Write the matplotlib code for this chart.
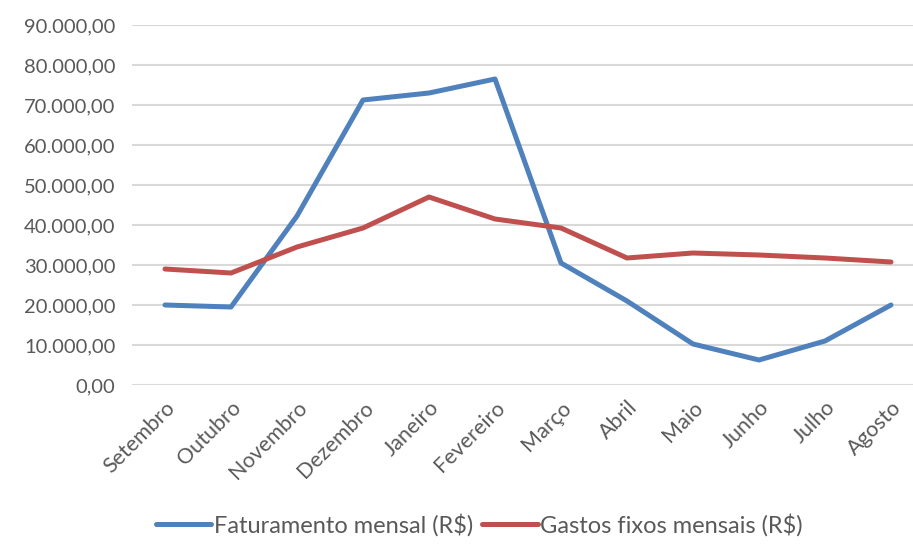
import matplotlib
matplotlib.use("Agg")
import matplotlib.pyplot as plt
from matplotlib.ticker import FuncFormatter

meses = ["Setembro", "Outubro", "Novembro", "Dezembro", "Janeiro", "Fevereiro",
         "Março", "Abril", "Maio", "Junho", "Julho", "Agosto"]
faturamento = [20000, 19500, 42250, 71250, 73000, 76500,
               30500, 21000, 10250, 6250, 11000, 20000]
gastos = [29000, 28000, 34500, 39250, 47000, 41500,
          39250, 31750, 33000, 32500, 31750, 30750]
yticks = [0, 10000, 20000, 30000, 40000, 50000, 60000, 70000, 80000, 90000]

plt.rcParams['font.family'] = ['Lato', 'DejaVu Sans']
text_color = "#595959"

fig = plt.figure(figsize=(9.13, 5.44), dpi=100)
ax = fig.add_axes([132 / 913, 1 - 385 / 544, 792 / 913, 360 / 544])

x = list(range(len(meses)))
ax.plot(x, faturamento, color="#4F81BD", lw=3.6, solid_capstyle="round",
        label="Faturamento mensal (R$)")
ax.plot(x, gastos, color="#C0504D", lw=3.6, solid_capstyle="round",
        label="Gastos fixos mensais (R$)")

ax.set_xlim(-0.5, len(meses) - 0.5)
ax.set_ylim(0, 90000)
ax.set_yticks(yticks)


def fmt(v, pos):
    s = "{:,.2f}".format(v)
    return s.replace(",", "X").replace(".", ",").replace("X", ".")


ax.yaxis.set_major_formatter(FuncFormatter(fmt))
ax.grid(axis="y", color="#D9D9D9", lw=1.5)
ax.set_axisbelow(True)
for s in ax.spines.values():
    s.set_visible(False)

ax.set_xticks(x)
ax.set_xticklabels(meses, rotation=45, ha="right", rotation_mode="anchor")
ax.tick_params(axis="y", length=0, labelsize=14.5, colors=text_color, pad=12)
ax.tick_params(axis="x", length=0, labelsize=15.5, colors=text_color, pad=9)

leg = fig.legend(loc="lower center", ncol=2, frameon=False, fontsize=17,
                 bbox_to_anchor=(0.525, -0.025), handlelength=2.35,
                 handletextpad=0.1, columnspacing=0.4)
for t in leg.get_texts():
    t.set_color(text_color)

fig.savefig("out.png", dpi=100)
